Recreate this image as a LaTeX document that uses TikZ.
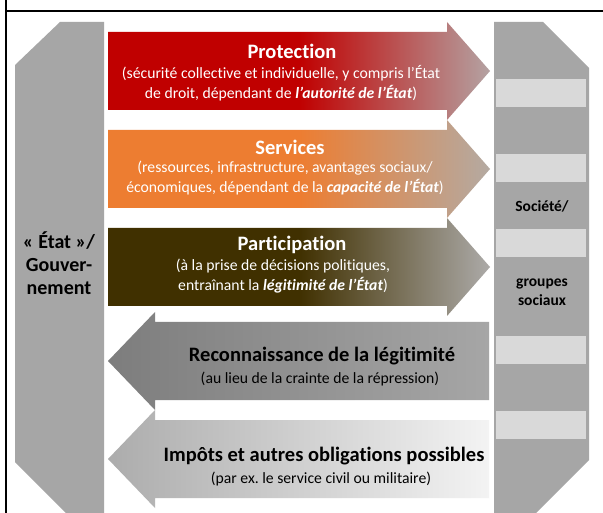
\documentclass[tikz,border=0pt]{standalone}
\usepackage{fontspec}
\setmainfont{Carlito}[Ligatures=CommonOff]
\usepackage{tikz}
\frenchspacing
\definecolor{colGray}{RGB}{166,166,166}
\definecolor{slotGray}{RGB}{217,217,217}
\definecolor{protRed}{RGB}{192,0,0}
\definecolor{protEnd}{RGB}{180,162,162}
\definecolor{servOr}{RGB}{237,125,49}
\definecolor{servEnd}{RGB}{180,170,162}
\definecolor{partBr}{RGB}{64,48,0}
\definecolor{partEnd}{RGB}{172,170,168}
\definecolor{recoL}{RGB}{125,125,125}
\definecolor{recoR}{RGB}{166,166,166}
\definecolor{impL}{RGB}{172,172,172}
\definecolor{impR}{RGB}{243,243,243}
\tikzset{
  frameline/.style={ draw=black, line width=2pt }
}
\tikzset{
  colshape/.style={ fill=colGray }
}
\tikzset{
  slot/.style={ fill=slotGray, minimum width=90pt, minimum height=28pt, inner sep=0pt }
}
\tikzset{
  coltext/.style={ align=center, inner sep=0pt, font=\fontsize{20}{23}\selectfont\bfseries }
}
\tikzset{
  soctext/.style={ align=center, inner sep=0pt, font=\fontsize{15.5}{18.5}\selectfont\bfseries }
}
\tikzset{
  titletxt/.style={ inner sep=0pt, font=\fontsize{20.5}{24}\selectfont\bfseries }
}
\tikzset{
  subtxt/.style={ align=center, inner sep=0pt, font=\fontsize{15.7}{19.5}\selectfont }
}

\begin{document}
\begin{tikzpicture}[x=1pt, y=-1pt]
      \useasboundingbox[fill=white] (0,0) rectangle (603,513);
      \draw[frameline] (6,0) -- (6,513);
      \draw[frameline] (5,11) -- (603,11);

      % state and society columns
      \fill[colshape] (15,65) -- (60,22) -- (104,22) -- (104,513) -- (66,513) -- (15,462) -- cycle;
      \fill[colshape] (494,22) -- (543,22) -- (589,68) -- (589,460) -- (536,513) -- (494,513) -- cycle;
      \node[slot] (s1) at (541,93) {};
      \node[slot] (s2) at (541,168.5) {};
      \node[slot] (s3) at (541,243) {};
      \node[slot] (s4) at (541,350) {};
      \node[slot] (s5) at (541,425) {};
      \node[coltext] (etat) at (59,263) {« État »/\\Gouver-\\nement};
      \node[soctext] (soc) at (542,206) {Société/};
      \node[soctext] (grp) at (542,292) {groupes\\sociaux};

      % state -> society
      \shade[left color=protRed, right color=protEnd, middle color=protRed] (108,32) -- (447,32) -- (447,22) -- (490,71) -- (447,120) -- (447,110) -- (108,110) -- cycle;
      \shade[left color=servOr, right color=servEnd, middle color=servOr] (108,130) -- (447,130) -- (447,120) -- (490,169) -- (447,218) -- (447,208) -- (108,208) -- cycle;
      \shade[left color=partBr, right color=partEnd, middle color=partBr] (108,228) -- (447,228) -- (447,218) -- (490,267) -- (447,316) -- (447,306) -- (108,306) -- cycle;
      \node[titletxt, text=white] (protT) at (292,51) {Protection};
      \node[subtxt, text=white] (protS) at (281,83) {(sécurité collective et individuelle, y compris l’État\\de droit, dépendant de \textbf{\textit{l’autorité de l’État}})};
      \node[titletxt, text=white] (servT) at (290,147) {Services};
      \node[subtxt, text=white] (servS) at (285,178) {(ressources, infrastructure, avantages sociaux/\\économiques, dépendant de la \textbf{\textit{capacité de l’État}})};
      \node[titletxt, text=white] (partT) at (292,245) {Participation};
      \node[subtxt, text=white] (partS) at (283,276) {(à la prise de décisions politiques,\\entraînant la \textbf{\textit{légitimité de l’État}})};

      % society -> state
      \shade[left color=recoL, right color=recoR] (489,322) -- (155,322) -- (155,312) -- (108,361) -- (155,410) -- (155,400) -- (489,400) -- cycle;
      \shade[left color=impL, right color=impR] (489,420) -- (155,420) -- (155,410) -- (108,459) -- (155,508) -- (155,498) -- (489,498) -- cycle;
      \node[titletxt] (recoT) at (322,356) {Reconnaissance de la légitimité};
      \node[subtxt] (recoS) at (320,379) {(au lieu de la crainte de la répression)};
      \node[titletxt] (impT) at (324,456) {Impôts et autres obligations possibles};
      \node[subtxt] (impS) at (321,479) {(par ex. le service civil ou militaire)};
    \end{tikzpicture}
\end{document}
